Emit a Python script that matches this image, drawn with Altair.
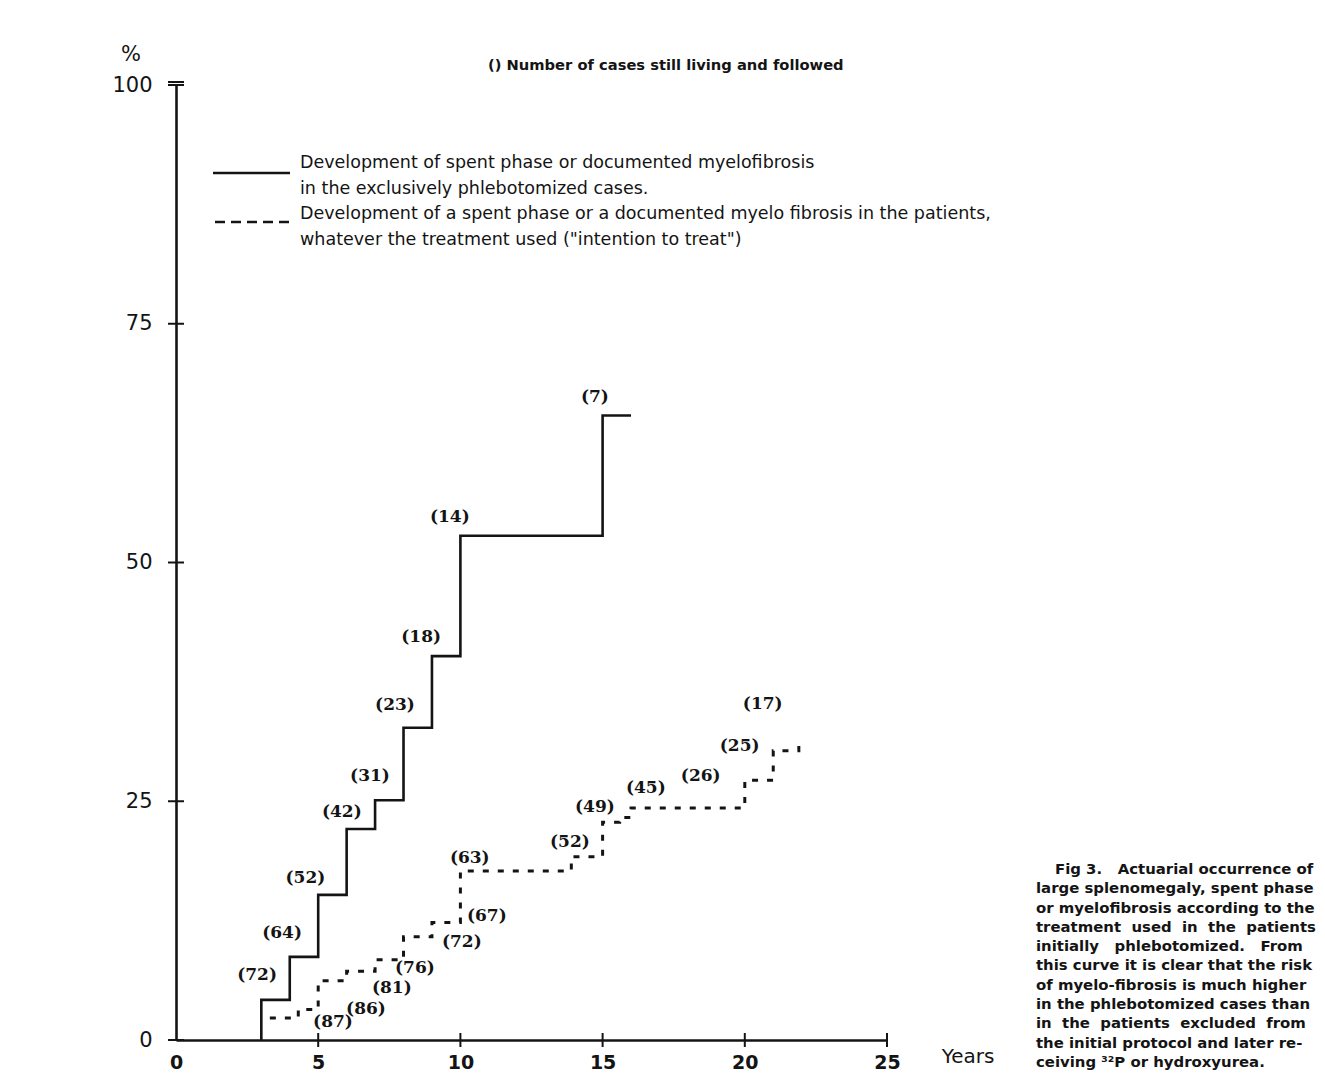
import altair as alt
import pandas as pd

# ---- data (years, % of patients) ----
solid_t = [3, 3, 4, 5, 6, 7, 8, 9, 10, 15, 16]
solid_pct = [0, 4.2, 8.7, 15.2, 22.1, 25.1, 32.7, 40.2, 52.8, 65.4, 65.4]

dash_t = [3.3, 4.3, 5.0, 6.0, 7.0, 8.0, 9.0, 10.0, 13.9, 15.0, 15.6, 16.0, 20.0, 21.0, 21.9]
dash_pct = [2.3, 3.2, 6.2, 7.2, 8.4, 10.8, 12.3, 17.7, 19.2, 22.8, 23.3, 24.3, 27.2, 30.3, 30.9]

# number of cases still living and followed (label text, position in data units)
solid_lab = ["(72)", "(64)", "(52)", "(42)", "(31)", "(23)", "(18)", "(14)", "(7)"]
solid_lab_t = [2.85, 3.73, 4.55, 5.83, 6.82, 7.70, 8.62, 9.63, 14.73]
solid_lab_pct = [6.8, 11.2, 17.0, 23.9, 27.6, 35.1, 42.2, 54.8, 67.3]

dash_lab = ["(87)", "(86)", "(81)", "(76)", "(72)", "(67)", "(63)", "(52)", "(49)",
            "(45)", "(26)", "(25)", "(17)"]
dash_lab_t = [5.52, 6.68, 7.59, 8.40, 10.05, 10.93, 10.33, 13.85, 14.73,
              16.52, 18.45, 19.82, 20.63]
dash_lab_pct = [1.9, 3.2, 5.4, 7.5, 10.3, 13.0, 19.1, 20.7, 24.4,
                26.4, 27.6, 30.8, 35.2]

x_ticks = [0, 5, 10, 15, 20, 25]
y_ticks = [0, 25, 50, 75, 100]

header = "() Number of cases still living and followed"
legend_lines = [
    "Development of spent phase or documented myelofibrosis",
    "in the exclusively phlebotomized cases.",
    "Development of a spent phase or a documented myelo fibrosis in the patients,",
    "whatever the treatment used (\"intention to treat\")",
]
caption_first = "Fig 3.\u00a0\u00a0 Actuarial occurrence of"
caption_rest = [
    "large splenomegaly, spent phase",
    "or myelofibrosis according to the",
    "treatment\u00a0 used\u00a0 in\u00a0 the\u00a0 patients",
    "initially\u00a0\u00a0 phlebotomized.\u00a0\u00a0 From",
    "this curve it is clear that the risk",
    "of myelo-fibrosis is much higher",
    "in the phlebotomized cases than",
    "in\u00a0 the\u00a0 patients\u00a0 excluded\u00a0 from",
    "the initial protocol and later re-",
    "ceiving \u00b3\u00b2P or hydroxyurea.",
]

# ---- layout ----
W, H = 711, 955
INK = "#141414"
SANS = "DejaVu Sans"
SERIF = "DejaVu Serif"

xs = alt.Scale(domain=[0, 25], nice=False, zero=False)
ys = alt.Scale(domain=[0, 100], nice=False)

solid_df = pd.DataFrame({"t": solid_t, "pct": solid_pct})
dash_df = pd.DataFrame({"t": dash_t, "pct": dash_pct})
slab_df = pd.DataFrame({"t": solid_lab_t, "pct": solid_lab_pct, "lab": solid_lab})
dlab_df = pd.DataFrame({"t": dash_lab_t, "pct": dash_lab_pct, "lab": dash_lab})
xt_df = pd.DataFrame({"v": x_ticks[1:]})
yt_df = pd.DataFrame({"v": y_ticks})

base_x = alt.X("t:Q", scale=xs,
               axis=alt.Axis(values=x_ticks, ticks=False, grid=False, title=None,
                             domainWidth=2.6, domainColor=INK, labelFont=SANS,
                             labelFontSize=19, labelFontWeight="bold", labelColor=INK,
                             labelPadding=13, labelFlush=False))
base_y = alt.Y("pct:Q", scale=ys,
               axis=alt.Axis(values=y_ticks, ticks=False, grid=False, title=None,
                             domainWidth=2.6, domainColor=INK, labelFont=SANS,
                             labelFontSize=21, labelColor=INK, labelPadding=24,
                             labelFlush=False))

solid = alt.Chart(solid_df).mark_line(interpolate="step-after", color=INK,
                                      strokeWidth=2.6).encode(x=base_x, y=base_y)
dashed = alt.Chart(dash_df).mark_line(interpolate="step-after", color=INK,
                                      strokeWidth=3, strokeDash=[6, 9]).encode(
    x=alt.X("t:Q", scale=xs), y=alt.Y("pct:Q", scale=ys))

slab = alt.Chart(slab_df).mark_text(font=SERIF, fontWeight="bold", fontSize=17,
                                    color=INK).encode(
    x=alt.X("t:Q", scale=xs), y=alt.Y("pct:Q", scale=ys), text="lab:N")
dlab = alt.Chart(dlab_df).mark_text(font=SERIF, fontWeight="bold", fontSize=17,
                                    color=INK).encode(
    x=alt.X("t:Q", scale=xs), y=alt.Y("pct:Q", scale=ys), text="lab:N")

yticks = alt.Chart(yt_df).mark_rule(color=INK, strokeWidth=2).encode(
    y=alt.Y("v:Q", scale=ys), x=alt.value(-8), x2=alt.value(8))
ycap = alt.Chart(yt_df[yt_df.v == 100]).mark_rule(color=INK, strokeWidth=2, yOffset=-3).encode(
    y=alt.Y("v:Q", scale=ys), x=alt.value(-8), x2=alt.value(8))
xticks = alt.Chart(xt_df).mark_rule(color=INK, strokeWidth=2).encode(
    x=alt.X("v:Q", scale=xs), y=alt.value(H - 7), y2=alt.value(H + 7))

# legend samples
leg_solid = alt.Chart(pd.DataFrame({"a": [0]})).mark_rule(color=INK, strokeWidth=2.6).encode(
    x=alt.value(37), x2=alt.value(114), y=alt.value(88))
leg_dash = alt.Chart(pd.DataFrame({"a": [0]})).mark_rule(color=INK, strokeWidth=2.6,
                                                       strokeDash=[10, 6]).encode(
    x=alt.value(39), x2=alt.value(114), y=alt.value(137))
leg_text = alt.Chart(pd.DataFrame({"a": [0]})).mark_text(
    font=SANS, fontSize=17.5, color=INK, align="left", baseline="middle",
    lineHeight=25.7).encode(x=alt.value(124), y=alt.value(78), text=alt.value(legend_lines))

head = alt.Chart(pd.DataFrame({"a": [0]})).mark_text(
    font=SANS, fontSize=14.7, fontWeight=600, color=INK, align="left",
    baseline="middle").encode(x=alt.value(312), y=alt.value(-19), text=alt.value(header))
pct = alt.Chart(pd.DataFrame({"a": [0]})).mark_text(
    font=SANS, fontSize=21, color=INK, baseline="middle").encode(
    x=alt.value(-45), y=alt.value(-30), text=alt.value("%"))
years = alt.Chart(pd.DataFrame({"a": [0]})).mark_text(
    font=SANS, fontSize=20, color=INK, baseline="middle").encode(
    x=alt.value(792), y=alt.value(972), text=alt.value("Years"))

CAP = 14.9
cap1 = alt.Chart(pd.DataFrame({"a": [0]})).mark_text(
    font=SANS, fontSize=CAP, fontWeight="bold", color=INK, align="left",
    baseline="middle").encode(x=alt.value(879), y=alt.value(785), text=alt.value(caption_first))
cap2 = alt.Chart(pd.DataFrame({"a": [0]})).mark_text(
    font=SANS, fontSize=CAP, fontWeight="bold", color=INK, align="left",
    baseline="middle", lineHeight=19.3).encode(
    x=alt.value(860), y=alt.value(804.3), text=alt.value(caption_rest))

chart = alt.layer(
    solid, dashed, slab, dlab, yticks, ycap, xticks,
    leg_solid, leg_dash, leg_text, head, pct, years, cap1, cap2,
).properties(
    width=W, height=H,
    autosize=alt.AutoSizeParams(type="none"),
    padding={"left": 168, "top": 77, "right": 430, "bottom": 33},
    background="white",
).configure_view(strokeWidth=0)

chart.save("out.html", embed_options={"renderer": "svg", "actions": False})
